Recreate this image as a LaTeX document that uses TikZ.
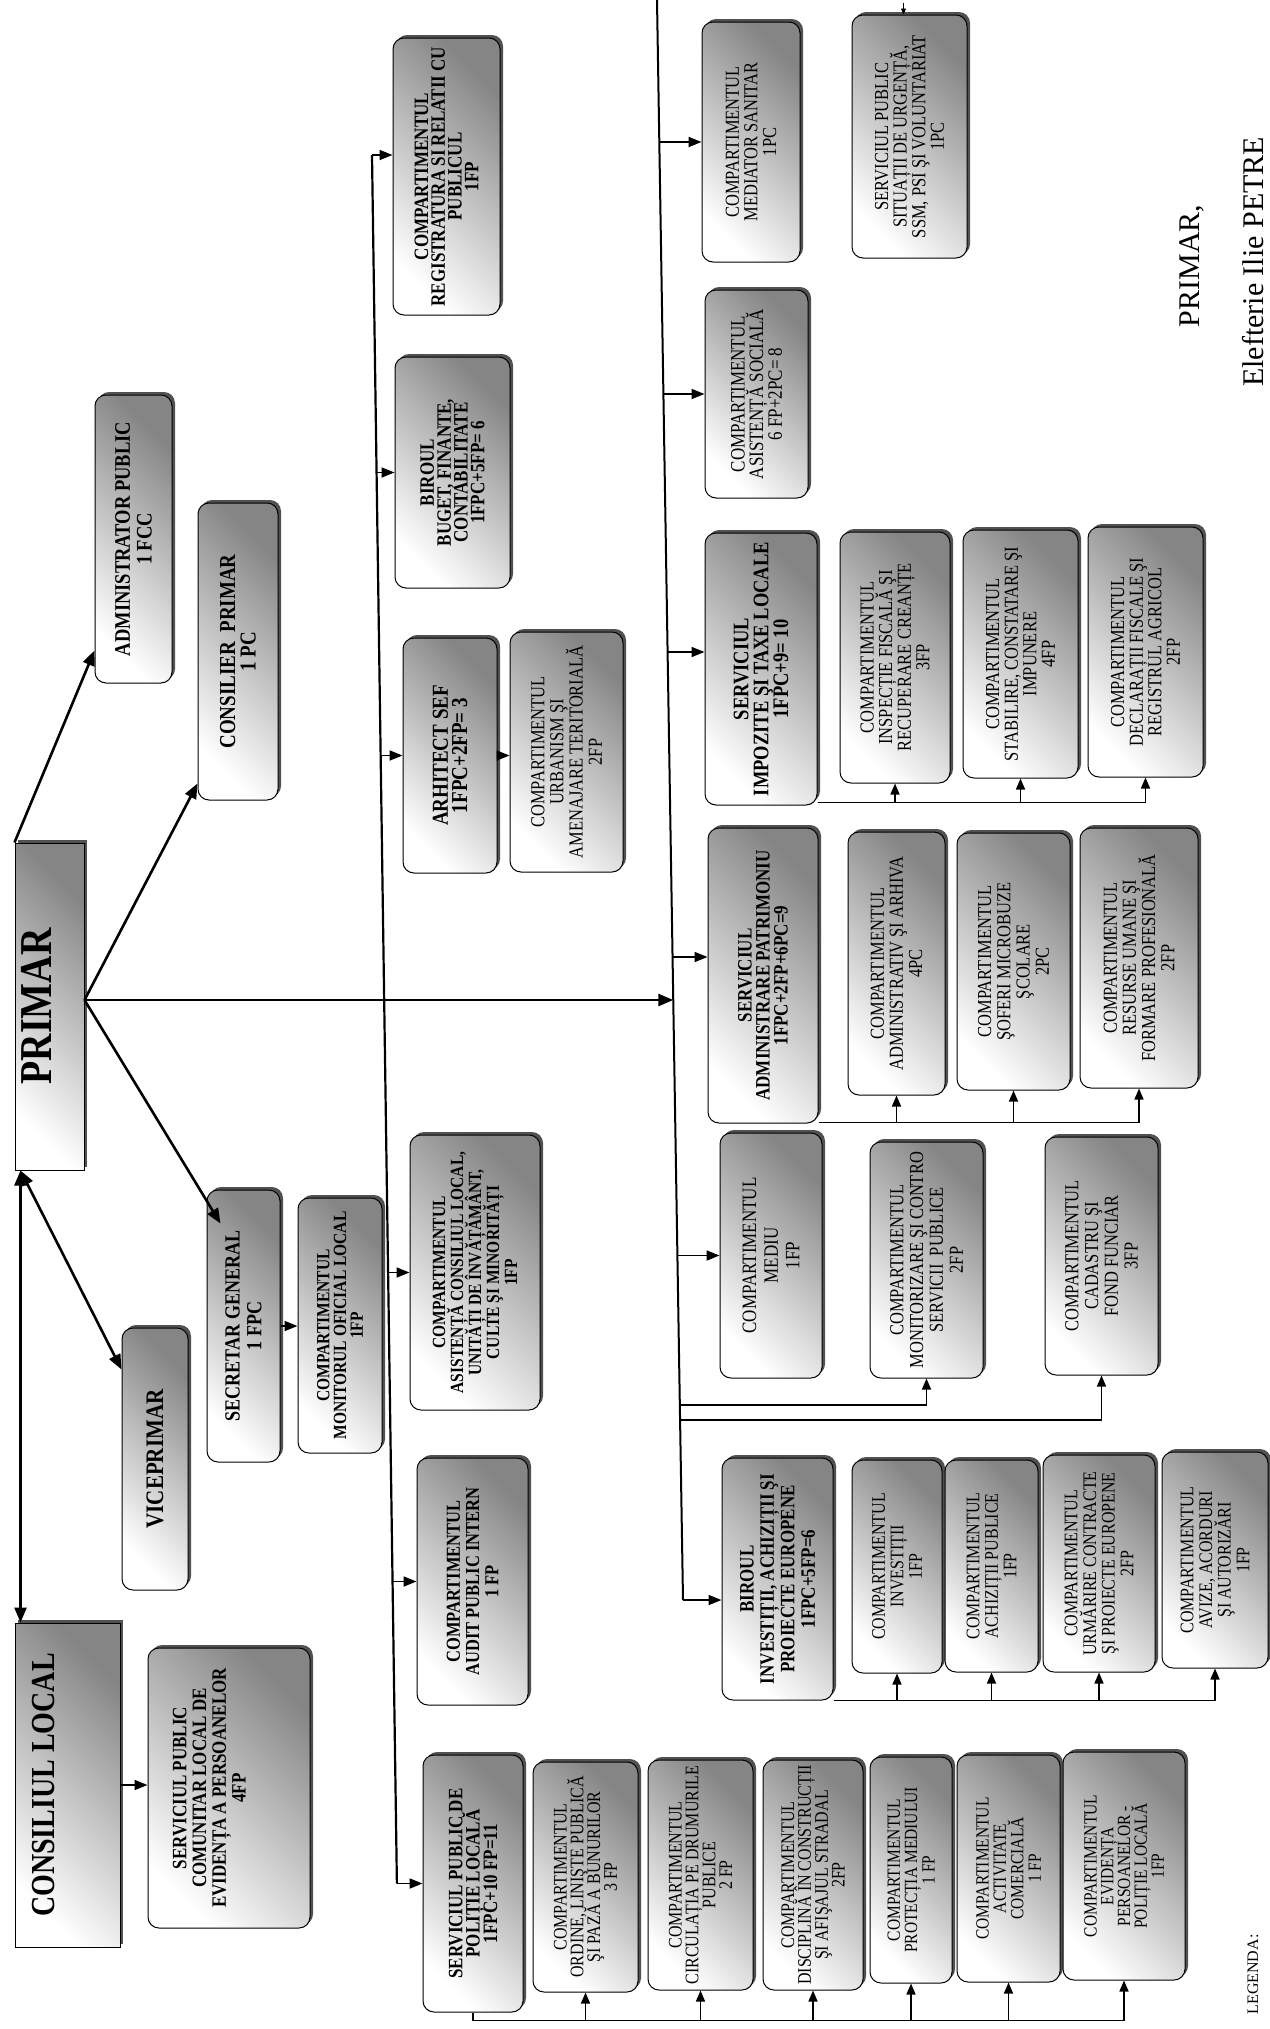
\documentclass[tikz,border=0pt]{standalone}
\usepackage{fontspec}
\setmainfont{Liberation Serif}
\usepackage{graphicx}
\usetikzlibrary{arrows.meta,shadows}
\newcommand{\lns}[1]{\vbox{\lineskiplimit=-\maxdimen\lineskip=0pt\let\\\cr\halign{\hfil##\hfil\cr#1\crcr}}}
\newcommand{\bx}[7]{\node[#1, minimum width={(#5)-(#3)}, minimum height={(#6)-(#4)}] (#2) at ({((#3)+(#5))/2},{((#4)+(#6))/2}) {\rotatebox{90}{\scalebox{1}[1.2]{\lns{#7}}}};}
\begin{document}
\begin{tikzpicture}[x=1pt,y=-1pt,
 base/.style={draw=black, line width=1pt, left color=white, right color=black!48, shading angle=135,
   drop shadow={shadow xshift=3pt, shadow yshift=3pt, fill=black!80, opacity=0.85}, inner sep=1.5pt},
 box/.style={base, rounded corners=11pt},
 rectb/.style={base, sharp corners},
 fb/.style args={#1/#2}{font=\fontsize{#1}{#2}\selectfont\bfseries},
 fr/.style args={#1/#2}{font=\fontsize{#1}{#2}\selectfont},
 hb/.style={box, fb=18/17},
 bb/.style={box, fb=16.5/14},
 rb/.style={box, fr=16.5/15.5},
 marr/.style={line width=2.6pt, -{Triangle[length=15pt,width=12pt]}},
 darr/.style={line width=2.6pt, {Triangle[length=15pt,width=12pt]}-{Triangle[length=15pt,width=12pt]}},
 bus/.style={line width=2.2pt},
 arr/.style={line width=1.8pt, -{Triangle[length=13pt,width=10pt]}},
 subl/.style={line width=1.5pt},
 sarr/.style={line width=1.5pt, -{Triangle[length=11pt,width=9pt]}},
 tarr/.style={line width=0.8pt, -{Triangle[length=6pt,width=5pt]}},
 sig/.style={font=\fontsize{30}{30}\selectfont, rotate=90}
]
\useasboundingbox (0,0) rectangle (1269,2029);
\fill[white] (0,0) rectangle (1269,2029);

% top level
\bx{rectb, fb=38/38}{P}{15}{843}{84}{1170}{PRIMAR\\\noalign{\vskip22pt}}
\bx{rectb, fb=28/28}{CL}{15}{1623}{120}{1947}{CONSILIUL LOCAL\\\noalign{\vskip40pt}}
\bx{hb, fb=18.5/18}{adm}{95}{395}{172}{683}{ADMINISTRATOR PUBLIC\\1 FCC}
\bx{hb, fb=19/17}{cp}{198}{503}{278}{800}{CONSILIER\ \ PRIMAR\\1 PC}
\bx{hb, fb=18/18}{sg}{207}{1190}{280}{1462}{SECRETAR GENERAL\\1 FPC}
\bx{hb, fb=21/21}{vp}{122}{1328}{188}{1590}{VICEPRIMAR}
\bx{bb, fb=15.5/14}{mol}{298}{1198}{382}{1453}{COMPARTIMENTUL\\MONITORUL OFICIAL LOCAL\\1FP}
\bx{bb, fb=17/16.5}{spc}{148}{1648}{310}{1928}{SERVICIUL PUBLIC\\COMUNITAR LOCAL DE\\EVIDENȚA A PERSOANELOR\\4FP\\\noalign{\vskip33pt}}

% column 1
\bx{bb, fb=17/14}{reg}{393}{38}{500}{315}{COMPARTIMENTUL\\REGISTRATURA SI RELATII CU\\PUBLICUL\\1FP}
\bx{bb, fb=17/14}{bug}{395}{357}{510}{588}{BIROUL\\BUGET, FINANTE,\\CONTABILITATE\\1FPC+5FP= 6}
\bx{hb, fb=19/16}{arh}{403}{638}{497}{873}{ARHITECT SEF\\1FPC+2FP= 3}
\bx{rb, fr=16.5/16}{urb}{510}{632}{623}{872}{COMPARTIMENTUL\\URBANISM ŞI\\AMENAJARE TERITORIALĂ\\2FP}
\bx{bb, fb=15.5/15}{acl}{410}{1135}{540}{1410}{COMPARTIMENTUL\\ASISTENȚĂ CONSILIUL LOCAL,\\UNITĂȚI DE ÎNVĂȚĂMÂNT,\\CULTE ŞI MINORITĂȚI\\1FP}
\bx{bb, fb=16.5/16}{aud}{417}{1458}{528}{1705}{COMPARTIMENTUL\\AUDIT PUBLIC INTERN\\1 FP}
\bx{bb, fb=17/14.5}{pol}{423}{1755}{523}{2012}{SERVICIUL PUBLIC DE\\POLIȚIE LOCALĂ\\1FPC+10 FP=11}
\bx{rb, fr=16/14}{ord}{533}{1762}{638}{1992}{COMPARTIMENTUL\\ORDINE, LINIŞTE PUBLICĂ\\ŞI PAZĂ A BUNURILOR\\3 FP}
\bx{rb, fr=16/14}{cir}{648}{1760}{753}{1990}{COMPARTIMENTUL\\CIRCULAȚIA PE DRUMURILE\\PUBLICE\\2 FP}
\bx{rb, fr=16/14}{dis}{763}{1760}{863}{1990}{COMPARTIMENTUL\\DISCIPLINĂ ÎN CONSTRUCȚII\\ŞI AFIŞAJUL STRADAL\\2FP}
\bx{rb, fr=15.5/14.5}{pro}{870}{1757}{952}{1983}{COMPARTIMENTUL\\PROTECȚIA MEDIULUI\\1 FP}
\bx{rb, fr=15.5/14.5}{com}{957}{1755}{1060}{1982}{COMPARTIMENTUL\\ACTIVITATE\\COMERCIALĂ\\1 FP}
\bx{rb, fr=15.5/14}{evp}{1063}{1752}{1185}{1980}{COMPARTIMENTUL\\EVIDENȚA\\PERSOANELOR -\\POLIȚIE LOCALĂ\\1FP}

% column 2
\bx{rb}{med}{702}{22}{800}{262}{COMPARTIMENTUL\\MEDIATOR SANITAR\\1PC}
\bx{rb, fr=17/15.5}{soc}{705}{290}{808}{498}{COMPARTIMENTUL\\ASISTENȚĂ SOCIALĂ\\6 FP+2PC= 8}
\bx{rb}{su}{852}{15}{967}{258}{SERVICIUL PUBLIC\\SITUAȚII DE URGENȚĂ,\\SSM, PSI ŞI VOLUNTARIAT\\1PC}
\bx{hb, fb=18.5/16.5}{imp}{705}{533}{817}{805}{SERVICIUL\\IMPOZITE ŞI TAXE LOCALE\\1FPC+9= 10}
\bx{rb}{ins}{840}{532}{950}{783}{COMPARTIMENTUL\\INSPECȚIE FISCALĂ ŞI\\RECUPERARE CREANȚE\\3FP}
\bx{rb}{sta}{963}{530}{1078}{778}{COMPARTIMENTUL\\STABILIRE, CONSTATARE ŞI\\IMPUNERE\\4FP}
\bx{rb}{dec}{1088}{527}{1203}{777}{COMPARTIMENTUL\\DECLARAȚII FISCALE ŞI\\REGISTRUL AGRICOL\\2FP}
\bx{bb, fb=17/15}{pat}{708}{828}{818}{1123}{SERVICIUL\\ADMINISTRARE PATRIMONIU\\1FPC+2FP+6PC=9}
\bx{rb, fr=16.5/16}{arv}{848}{832}{945}{1095}{COMPARTIMENTUL\\ADMINISTRATIV ŞI ARHIVA\\4PC}
\bx{rb, fr=16.5/16}{sof}{957}{833}{1070}{1090}{COMPARTIMENTUL\\ŞOFERI MICROBUZE\\ŞCOLARE\\2PC}
\bx{rb, fr=16.5/16}{res}{1080}{828}{1198}{1088}{COMPARTIMENTUL\\RESURSE UMANE ŞI\\FORMARE PROFESIONALĂ\\2FP}
\bx{rb, fr=17/18}{mdu}{720}{1133}{822}{1378}{COMPARTIMENTUL\\MEDIU\\1FP}
\bx{rb, fr=16.5/16.5}{mon}{870}{1142}{983}{1378}{COMPARTIMENTUL\\MONITORIZARE ŞI CONTRO\\SERVICII\ \ PUBLICE\\2FP}
\bx{rb, fr=16.5/16.5}{cad}{1045}{1137}{1158}{1375}{COMPARTIMENTUL\\CADASTRU ŞI\\FOND FUNCIAR\\3FP}
\bx{bb, fb=17/17}{bi}{722}{1458}{833}{1700}{BIROUL\\INVESTIȚII, ACHIZIȚII ŞI\\PROIECTE EUROPENE\\1FPC+5FP=6}
\bx{rb, fr=16/15.5}{inv}{852}{1460}{942}{1673}{COMPARTIMENTUL\\INVESTIȚII\\1FP}
\bx{rb, fr=16/15.5}{ach}{945}{1460}{1038}{1672}{COMPARTIMENTUL\\ACHIZIȚII PUBLICE\\1FP}
\bx{rb, fr=16/15.5}{urm}{1043}{1455}{1155}{1672}{COMPARTIMENTUL\\URMĂRIRE CONTRACTE\\ŞI PROIECTE EUROPENE\\2FP}
\bx{rb, fr=16/15.5}{avz}{1162}{1452}{1268}{1668}{COMPARTIMENTUL\\AVIZE, ACORDURI\\ŞI AUTORIZĂRI\\1FP}

% signature and legend
\node[sig] (sig1) at (1192,266) {PRIMAR,};
\node[sig] (sig2) at (1253,262) {Elefterie Ilie PETRE};
\node[font=\fontsize{16}{16}\selectfont, rotate=90, anchor=west] (leg) at (1253,2018) {LEGENDA:};

% PRIMAR connectors
\coordinate (pj) at ([yshift=6.5pt]P.east);
\coordinate (pv) at ([xshift=6pt]P.south west);
\coordinate (pje) at (673.3,1000);
\draw[marr] (P.north west) -- ([yshift=33pt]adm.south west);
\draw[marr] (pj) -- ([yshift=17pt]cp.south west);
\draw[marr] (pj) -- ([xshift=14pt,yshift=-34pt]sg.north west);
\draw[darr] (pv) -- ([yshift=-42pt]vp.north west);
\draw[darr] (pv) -- (pv |- CL.north);
\draw[arr] (CL.east) -- (spc.west |- CL.east);
\draw[arr] (sg.east) -- (mol.west |- sg.east);

% bus 1
\coordinate (b1t) at (372,155);
\coordinate (b1b) at (396.9,1883.5);
\coordinate (t1bug) at (376.6,472.5);
\coordinate (t1arh) at (380.7,755.5);
\coordinate (t1acl) at (388.1,1272.5);
\coordinate (t1aud) at (392.6,1581.5);
\draw[bus] (b1t) -- (b1b);
\draw[arr] (b1t) -- (reg.west |- b1t);
\draw[arr] (t1bug) -- (bug.west);
\draw[arr] (t1arh) -- (arh.west);
\draw[arr] (t1acl) -- (acl.west);
\draw[arr] (t1aud) -- (aud.west);
\draw[arr] (b1b) -- (pol.west);
\draw[arr] (arh.east) -- (urb.west |- arh.east);

% main horizontal from PRIMAR
\draw[marr] (pj) -- (pje);

% bus 2
\coordinate (b2t) at (657,0);
\coordinate (b2b) at (683,1600);
\coordinate (t2med) at (659.3,142);
\coordinate (t2soc) at (663.4,394);
\coordinate (t2imp) at (667.6,652);
\coordinate (t2pat) at (672.6,957);
\coordinate (t2mdu) at (677.4,1255.5);
\coordinate (m1) at (679.8,1405);
\coordinate (m2) at (680.1,1420);
\draw[bus, line width=2pt] (b2t) -- (b2b);
\draw[arr] (t2med) -- (med.west);
\draw[arr] (t2soc) -- (soc.west);
\draw[arr] (t2imp) -- ([yshift=17pt]imp.west);
\draw[arr] (t2pat) -- ([yshift=18.5pt]pat.west);
\draw[arr] (t2mdu) -- (mdu.west);
\draw[sarr] (m1) -| (mon.south);
\draw[sarr] (m2) -| (cad.south);
\draw[arr] (b2b) -- (bi.west |- b2b);
\draw[tarr] ([xshift=-6pt,yshift=12pt]su.north) -- ([xshift=-6pt]su.north);

% impozite subtree
\coordinate (ti) at ([yshift=3pt]imp.south east);
\draw[subl] (ti) -- (ti -| dec.south);
\foreach \n in {ins,sta,dec} \draw[sarr] (ti -| \n.south) -- (\n.south);

% patrimoniu subtree
\coordinate (tpa) at ([yshift=1pt]pat.south east);
\draw[subl] (tpa) -- (tpa -| res.south);
\foreach \n in {arv,sof,res} \draw[sarr] (tpa -| \n.south) -- (\n.south);

% investitii subtree
\coordinate (tbi) at (bi.south east);
\draw[subl] (tbi) -- (tbi -| avz.south);
\foreach \n in {inv,ach,urm,avz} \draw[sarr] (tbi -| \n.south) -- (\n.south);

% politie subtree
\coordinate (tp) at ([yshift=-8pt]pol.south);
\draw[subl] (pol.south) -- (tp) -- (tp -| evp.south);
\foreach \n in {ord,cir,dis,pro,com,evp} \draw[sarr] (tp -| \n.south) -- (\n.south);
\end{tikzpicture}
\end{document}
